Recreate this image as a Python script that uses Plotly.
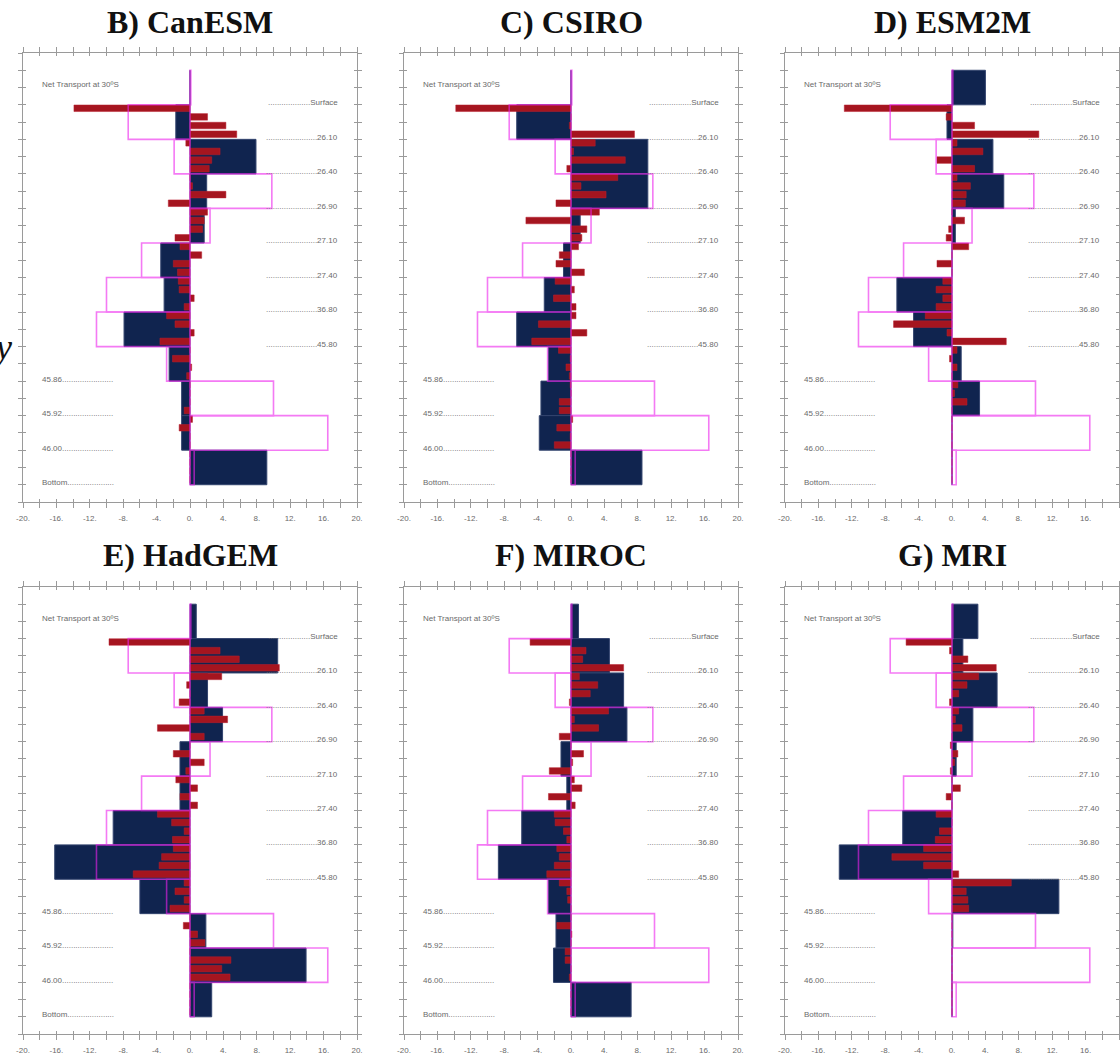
import plotly.graph_objects as go

# ---------------- data ----------------
titles = ["B) CanESM", "C) CSIRO", "D) ESM2M", "E) HadGEM", "F) MIROC", "G) MRI"]
right_levels = ["Surface", "26.10", "26.40", "26.90", "27.10", "27.40", "36.80", "45.80"]
left_levels = ["45.86", "45.92", "46.00", "Bottom"]
net_label = "Net Transport at 30ºS"
x_tick_vals = list(range(-20, 21, 2))
x_tick_text = [f"{v}." if v % 4 == 0 else "" for v in x_tick_vals]

# observed transport (pink outlines): net, then 11 density layers
obs_layers = [0.1, -7.4, -1.9, 9.8, 2.4, -5.8, -10.0, -11.2, -2.8, 10.0, 16.5, 0.5]

# model layer transport (navy boxes): net, then 11 density layers
canesm_layers = [0.0, -1.7, 7.9, 2.0, 1.7, -3.5, -3.1, -7.9, -2.5, -1.0, -1.0, 9.2]
csiro_layers = [0.0, -6.5, 9.2, 9.2, 1.1, -0.9, -3.2, -6.5, -2.7, -3.6, -3.8, 8.5]
esm2m_layers = [4.0, -0.6, 4.9, 6.2, 0.4, 0.0, -6.6, -4.6, 1.1, 3.3, 0.0, 0.0]
hadgem_layers = [0.75, 10.5, 2.1, 3.9, -1.2, -1.2, -9.2, -16.2, -6.0, 1.9, 13.9, 2.6]
miroc_layers = [0.9, 4.6, 6.3, 6.7, -1.2, -0.5, -5.9, -8.7, -2.7, -1.8, -2.1, 7.2]
mri_layers = [3.1, 1.3, 5.4, 2.5, 0.5, 0.0, -5.9, -13.5, 12.8, 0.1, 0.0, 0.0]

# sub-layer transport (red bars), 4 per layer, 44 values
canesm_sub = [-13.9, 2.1, 4.3, 5.6, -0.5, 3.6, 2.6, 2.3, 0.0, 0.3, 4.3, -2.6,
              2.1, 1.7, 1.5, -1.8, -1.2, 1.4, -2.0, -1.5, -1.4, -1.3, 0.5, -0.7,
              -2.8, -1.8, 0.5, -3.6, 0.0, -2.1, 0.2, -0.4, 0.0, 0.0, 0.0, -0.7,
              0.3, -1.3, 0.0, 0.0, 0.0, 0.0, 0.0, 0.0]
csiro_sub = [-13.8, 0.0, -0.2, 7.6, 2.9, 0.3, 6.5, -0.5, 5.6, 1.2, 4.2, -1.8,
             3.4, -5.4, 1.9, 1.3, 0.9, -1.4, -1.8, 1.6, -1.9, 0.4, -2.1, 0.6,
             0.6, -3.9, 1.9, -4.7, -1.5, -0.1, -0.6, -0.2, -0.1, 0.0, -1.4, -1.4,
             0.2, -1.7, -0.1, -2.0, 0.0, 0.0, 0.0, 0.0]
esm2m_sub = [-12.9, -0.7, 2.7, 10.4, 0.6, 3.7, -1.8, 2.7, 0.6, 2.2, 1.7, 1.6,
             0.0, 1.5, -0.4, -0.7, 2.0, 0.0, -1.8, 0.0, -1.1, -1.9, -1.1, -1.9,
             -3.2, -7.0, -0.6, 6.5, 0.6, -0.3, 0.6, 0.0, 0.7, 0.3, 1.8, 0.0,
             0.0, 0.0, 0.0, 0.0, 0.0, 0.0, 0.0, 0.0]
hadgem_sub = [-9.7, 3.6, 5.9, 10.7, 3.8, -0.4, 0.0, -1.3, 1.7, 4.5, -3.9, 1.7,
              0.0, -2.0, 1.7, -0.5, -1.7, 0.9, -1.2, 0.9, -3.9, -2.2, -0.7, -2.1,
              -2.0, -3.4, -3.7, -6.8, -0.7, -1.8, -0.7, -2.4, 0.0, -0.8, 0.9, 1.8,
              0.0, 4.9, 3.8, 4.8, 0.0, 0.0, 0.0, 0.0]
miroc_sub = [-4.9, 1.8, 1.4, 6.3, 1.0, 3.2, 2.3, -0.2, 4.5, 0.4, 3.3, -1.4,
             0.0, 1.5, 0.2, -2.6, 0.4, 1.3, -2.7, 0.5, -2.0, -1.9, -0.9, -0.5,
             -1.7, -1.4, -2.0, -2.9, -1.4, -0.5, -0.4, 0.0, 0.0, -1.7, 0.1, 0.0,
             -0.7, -0.7, 0.0, -0.2, 0.0, 0.0, 0.0, 0.0]
mri_sub = [-5.5, -0.3, 1.9, 5.3, 3.2, 1.8, 0.8, -0.3, 0.8, 0.4, 1.2, 0.0,
           -0.2, 0.7, 0.3, -0.2, 0.0, 1.0, -0.7, 0.0, -1.9, 0.0, -1.5, -2.0,
           -3.4, -7.2, -3.4, 0.8, 7.1, 1.7, 1.9, 2.0, 0.0, 0.0, 0.0, 0.0,
           0.0, 0.0, 0.0, 0.0, 0.0, 0.0, 0.0, 0.0]

model_layers = [canesm_layers, csiro_layers, esm2m_layers, hadgem_layers, miroc_layers, mri_layers]
model_sub = [canesm_sub, csiro_sub, esm2m_sub, hadgem_sub, miroc_sub, mri_sub]

# ---------------- layout geometry ----------------
W, H = 1120, 1058
col_px = [(23, 357), (404, 738), (785, 1119)]
row_px = [(53, 502), (587, 1034)]
title_y_px = [22, 555]

NAVY = "#10244f"
RED = "#a5151f"
PINK = "#ee22ee"
FRAME = "#9a9a9a"
TXT = "#6a6a6a"
SANS = "Liberation Sans, Arial, sans-serif"

layer_y = [2 + 2 * k for k in range(len(obs_layers))]          # net + layers
sub_y = [3.2 + 0.5 * i for i in range(len(canesm_sub))]          # sub-layers

fig = go.Figure()
layout = dict(
    width=W, height=H, margin=dict(l=0, r=0, t=0, b=0, autoexpand=False),
    paper_bgcolor="white", plot_bgcolor="white",
    barmode="overlay", showlegend=False, annotations=[],
)

for p in range(6):
    r, c = divmod(p, 3)
    n = p + 1
    ov = p + 7
    xs = "" if n == 1 else str(n)
    xa, ya = "x" + xs, "y" + xs
    xo, yo = "x" + str(ov), "y" + str(ov)
    x0, x1 = col_px[c]
    y0, y1 = row_px[r]
    xdom = [x0 / W, x1 / W]
    ydom = [1 - y1 / H, 1 - y0 / H]

    common_x = dict(range=[-20, 20], tickvals=x_tick_vals, showgrid=False,
                    zeroline=False, fixedrange=True, tickcolor=FRAME, tickwidth=1,
                    automargin=False)
    common_y = dict(range=[26, 0], tickvals=list(range(0, 27)), showgrid=False,
                    zeroline=False, fixedrange=True, tickcolor=FRAME, tickwidth=1,
                    showticklabels=False, automargin=False)

    layout["xaxis" + xs] = dict(domain=xdom, anchor=ya, ticktext=x_tick_text,
                                ticks="outside", ticklen=5, showline=True,
                                linecolor=FRAME, linewidth=1, mirror="allticks",
                                tickfont=dict(family=SANS, size=8, color=TXT),
                                ticklabelstandoff=3, **common_x)
    layout["yaxis" + xs] = dict(domain=ydom, anchor=xa, ticks="outside", ticklen=4,
                                showline=True, linecolor=FRAME, linewidth=1,
                                mirror="allticks", **common_y)
    layout["xaxis" + str(ov)] = dict(overlaying=xa, anchor=ya, ticks="inside", ticklen=3,
                                     showticklabels=False, showline=False,
                                     mirror="allticks", **common_x)
    layout["yaxis" + str(ov)] = dict(overlaying=ya, anchor=xa, ticks="inside", ticklen=3,
                                     showline=False, mirror="allticks", **common_y)

    # overlay (inside tick) axes
    fig.add_trace(go.Scatter(x=[None], y=[None], xaxis=xo, yaxis=ya, hoverinfo="skip"))
    fig.add_trace(go.Scatter(x=[None], y=[None], xaxis=xa, yaxis=yo, hoverinfo="skip"))

    # navy model layer boxes
    fig.add_trace(go.Bar(x=model_layers[p], y=layer_y, orientation="h", width=2,
                         xaxis=xa, yaxis=ya,
                         marker=dict(color=NAVY, line=dict(color="#33446e", width=1))))
    # red sub-layer bars
    fig.add_trace(go.Bar(x=model_sub[p], y=sub_y, orientation="h", width=0.38,
                         xaxis=xa, yaxis=ya,
                         marker=dict(color=RED, line=dict(color="#b82030", width=0.5))))
    # pink observed outlines
    fig.add_trace(go.Bar(x=obs_layers, y=layer_y, orientation="h", width=2,
                         xaxis=xa, yaxis=ya, opacity=0.6,
                         marker=dict(color="rgba(0,0,0,0)", line=dict(color=PINK, width=1.6))))

    # level labels
    for k, lab in enumerate(right_levels):
        ndots = max(10, 32 - int(len(lab) * 1.9))
        layout["annotations"].append(dict(
            x=18, y=3 + 2 * k - 0.12, xref=xa, yref=ya, xanchor="right", yanchor="middle",
            text="." * ndots + lab, showarrow=False,
            font=dict(family=SANS, size=8, color=TXT)))
    for k, lab in enumerate(left_levels):
        ndots = max(10, 32 - int(len(lab) * 1.9))
        layout["annotations"].append(dict(
            x=-18, y=19 + 2 * k - 0.12, xref=xa, yref=ya, xanchor="left", yanchor="middle",
            text=lab + "." * ndots, showarrow=False,
            font=dict(family=SANS, size=8, color=TXT)))
    layout["annotations"].append(dict(
        x=-18, y=1.85, xref=xa, yref=ya, xanchor="left", yanchor="middle",
        text=net_label, showarrow=False, font=dict(family=SANS, size=8, color=TXT)))

    # panel title
    layout["annotations"].append(dict(
        x=(x0 + x1) / 2 / W, y=1 - title_y_px[r] / H, xref="paper", yref="paper",
        xanchor="center", yanchor="middle", text="<b>" + titles[p] + "</b>",
        showarrow=False, font=dict(family="Liberation Serif, Times New Roman, serif",
                                   size=32, color="#111111")))

# cut-off glyph at left edge
layout["annotations"].append(dict(
    x=14 / W, y=1 - 347 / H, xref="paper", yref="paper", xanchor="right",
    yanchor="middle", text="<i>y</i>", showarrow=False,
    font=dict(family="Liberation Serif, serif", size=36, color="#111111")))

fig.update_layout(**layout)
fig.write_html("out.html", config={"displayModeBar": False},
               post_script="document.body.style.margin='0';document.body.style.overflow='hidden';")
